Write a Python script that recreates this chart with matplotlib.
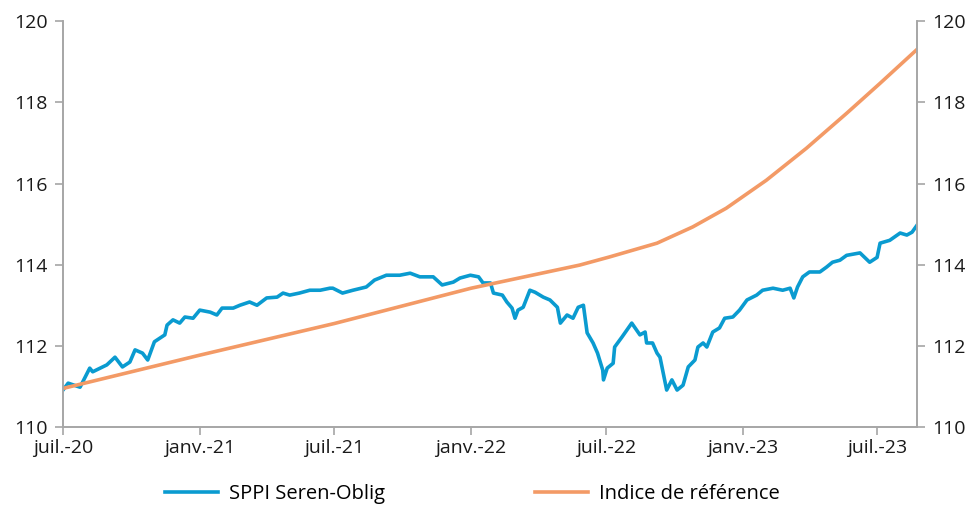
import numpy as np
import pandas as pd
import matplotlib
matplotlib.use('Agg')
import matplotlib.pyplot as plt
import matplotlib.dates as mdates

plt.rcParams['font.family'] = ['Open Sans', 'DejaVu Sans']

# SPPI Seren-Oblig
fund_dates = ['2020-07-01', '2020-07-08', '2020-07-24', '2020-08-06', '2020-08-10', '2020-08-29',
              '2020-09-09', '2020-09-19', '2020-09-29', '2020-10-06', '2020-10-16', '2020-10-23',
              '2020-11-01', '2020-11-15', '2020-11-18', '2020-11-26', '2020-12-05', '2020-12-12',
              '2020-12-23', '2021-01-01', '2021-01-15', '2021-01-24', '2021-01-31', '2021-02-15',
              '2021-02-24', '2021-03-09', '2021-03-19', '2021-04-01', '2021-04-15', '2021-04-23',
              '2021-05-02', '2021-05-15', '2021-05-29', '2021-06-12', '2021-06-25', '2021-06-29',
              '2021-07-12', '2021-07-26', '2021-08-13', '2021-08-24', '2021-09-09', '2021-09-27',
              '2021-10-11', '2021-10-24', '2021-11-11', '2021-11-23', '2021-12-08', '2021-12-17',
              '2021-12-31', '2022-01-11', '2022-01-17', '2022-01-27', '2022-01-31', '2022-02-12',
              '2022-02-18', '2022-02-25', '2022-03-01', '2022-03-05', '2022-03-12', '2022-03-21',
              '2022-03-28', '2022-04-08', '2022-04-17', '2022-04-27', '2022-05-01', '2022-05-10',
              '2022-05-18', '2022-05-25', '2022-06-01', '2022-06-06', '2022-06-14', '2022-06-20',
              '2022-06-27', '2022-06-28', '2022-07-03', '2022-07-11', '2022-07-13', '2022-07-23',
              '2022-08-05', '2022-08-16', '2022-08-23', '2022-08-25', '2022-09-02', '2022-09-08',
              '2022-09-12', '2022-09-21', '2022-09-28', '2022-10-05', '2022-10-13', '2022-10-20',
              '2022-10-29', '2022-11-02', '2022-11-09', '2022-11-14', '2022-11-22', '2022-12-01',
              '2022-12-08', '2022-12-19', '2022-12-28', '2023-01-07', '2023-01-20', '2023-01-28',
              '2023-02-11', '2023-02-24', '2023-03-06', '2023-03-11', '2023-03-16', '2023-03-23',
              '2023-04-01', '2023-04-15', '2023-04-24', '2023-05-02', '2023-05-12', '2023-05-21',
              '2023-06-08', '2023-06-21', '2023-07-01', '2023-07-05', '2023-07-18', '2023-08-01',
              '2023-08-10', '2023-08-17', '2023-08-24']
fund_values = [110.91, 111.08, 110.98, 111.45, 111.36, 111.53,
               111.72, 111.48, 111.60, 111.90, 111.82, 111.65,
               112.10, 112.27, 112.51, 112.64, 112.56, 112.71,
               112.68, 112.88, 112.83, 112.76, 112.93, 112.93,
               113.00, 113.08, 113.00, 113.18, 113.20, 113.30,
               113.25, 113.30, 113.37, 113.37, 113.42, 113.42,
               113.30, 113.37, 113.45, 113.62, 113.74, 113.74,
               113.79, 113.70, 113.70, 113.50, 113.57, 113.67,
               113.74, 113.70, 113.55, 113.55, 113.30, 113.25,
               113.08, 112.93, 112.68, 112.88, 112.95, 113.37,
               113.32, 113.20, 113.13, 112.95, 112.56, 112.76,
               112.68, 112.95, 113.00, 112.32, 112.07, 111.82,
               111.40, 111.16, 111.45, 111.57, 111.97, 112.22,
               112.56, 112.27, 112.34, 112.07, 112.07, 111.82,
               111.72, 110.91, 111.16, 110.91, 111.03, 111.48,
               111.65, 111.97, 112.07, 111.97, 112.34, 112.44,
               112.68, 112.71, 112.88, 113.13, 113.25, 113.37,
               113.42, 113.37, 113.42, 113.18, 113.45, 113.70,
               113.82, 113.82, 113.94, 114.06, 114.11, 114.23,
               114.29, 114.06, 114.18, 114.53, 114.60, 114.78,
               114.73, 114.80, 114.98]

# Indice de référence
bench_dates = ['2020-07-01', '2021-01-01', '2021-07-01', '2022-01-01', '2022-05-27', '2022-07-06',
               '2022-09-08', '2022-10-26', '2022-12-10', '2023-02-02', '2023-03-28', '2023-05-21',
               '2023-07-05', '2023-08-24']
bench_values = [110.95, 111.77, 112.55, 113.42, 113.99, 114.19,
                114.53, 114.93, 115.39, 116.08, 116.87, 117.73,
                118.47, 119.31]

tick_dates = ['2020-07-01', '2021-01-01', '2021-07-01', '2022-01-01', '2022-07-01', '2023-01-01', '2023-07-01']
tick_labels = ['juil.-20', 'janv.-21', 'juil.-21', 'janv.-22', 'juil.-22', 'janv.-23', 'juil.-23']

blue = '#0A9BD0'
orange = '#F39A66'
grey = '#A6A6A6'

fig = plt.figure(figsize=(9.73, 5.05), dpi=100)
ax = fig.add_axes([0.0647, 0.1545, 0.878, 0.8035])

ax.plot(pd.to_datetime(fund_dates), fund_values, color=blue, lw=2.6, label='SPPI Seren-Oblig')
ax.plot(pd.to_datetime(bench_dates), bench_values, color=orange, lw=2.6, label='Indice de référence')

ax.set_xlim(pd.Timestamp('2020-07-01'), pd.Timestamp('2023-08-24'))
ax.set_ylim(110, 120)
ax.set_yticks([110, 112, 114, 116, 118, 120])
ax.set_xticks(pd.to_datetime(tick_dates))
ax.set_xticklabels(tick_labels)

ax2 = ax.twinx()
ax2.set_ylim(110, 120)
ax2.set_yticks([110, 112, 114, 116, 118, 120])

for a in (ax, ax2):
    a.spines['top'].set_visible(False)
    for s in ('left', 'right', 'bottom'):
        a.spines[s].set_color(grey)
        a.spines[s].set_linewidth(1.2)
    a.tick_params(axis='both', colors=grey, labelcolor='#1A1A1A', labelsize=14,
                  length=6, width=1.2, direction='out')
ax.tick_params(axis='y', pad=5)
ax2.tick_params(axis='y', pad=5)
ax.tick_params(axis='x', pad=3)

fig.legend(loc='center left', bbox_to_anchor=(0.159, 0.022), ncol=2, frameon=False,
           borderpad=0, fontsize=14.5, handlelength=2.63, handletextpad=0.55,
           columnspacing=7.45)

fig.savefig('out.png', dpi=100)
